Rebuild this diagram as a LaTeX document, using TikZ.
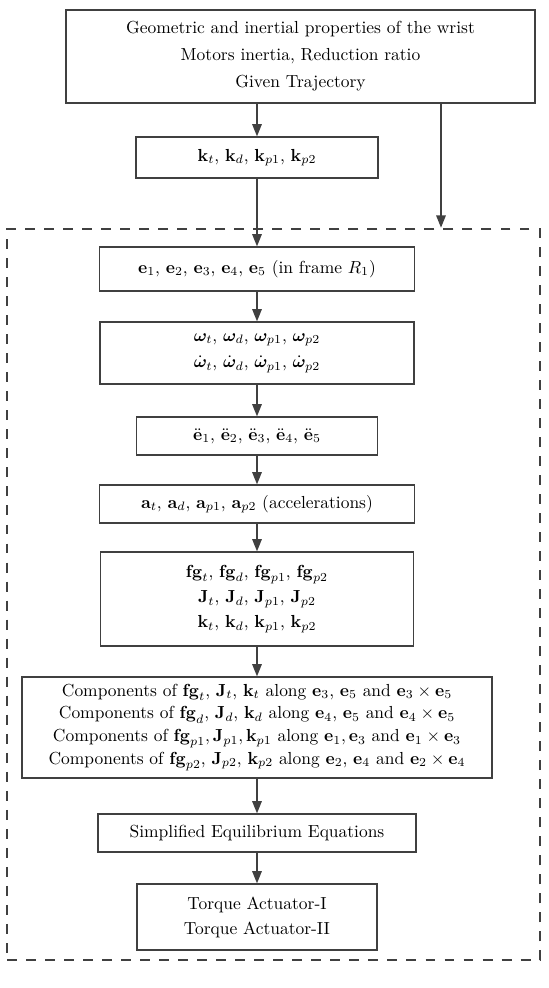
\documentclass[tikz,border=0pt]{standalone}
\usepackage{amsmath, amssymb}
\usepackage{bm}
\usepackage{tikz}
\usetikzlibrary{arrows.meta}
\newlength{\pxl}
\setlength{\pxl}{0.573pt}
\definecolor{linegray}{gray}{0.25}
\tikzset{
    box/.style={draw=linegray,line width=0.7pt,align=center,inner sep=0pt},
    arr/.style={draw=linegray,line width=0.9pt,-{Triangle[length=7pt,width=5.4pt]}},
    dashbox/.style={draw=linegray,line width=1.5pt,dash pattern=on 5.7pt off 5.2pt,inner sep=0pt}
}

\begin{document}
\begin{tikzpicture}[x=\pxl,y=-\pxl]
                            \useasboundingbox (0,0) rectangle (549,988);
                            \node[dashbox,minimum width=533\pxl,minimum height=731\pxl] (calc) at (273.5,594.5) {};
                            \node[box,minimum width=469\pxl,minimum height=93\pxl] (given) at (300.5,56.5)
                                {Geometric and inertial properties of the wrist\\[3.5pt]
                                 Motors inertia, Reduction ratio\\[3.5pt]
                                 Given Trajectory};
                            \node[box,minimum width=242\pxl,minimum height=41\pxl] (kvec) at (257,157.5)
                                {$\mathbf{k}_t$, $\mathbf{k}_d$, $\mathbf{k}_{p1}$, $\mathbf{k}_{p2}$};
                            \node[box,minimum width=315\pxl,minimum height=44\pxl] (evec) at (257,269)
                                {$\mathbf{e}_1$, $\mathbf{e}_2$, $\mathbf{e}_3$, $\mathbf{e}_4$, $\mathbf{e}_5$ (in frame $R_1$)};
                            \node[box,minimum width=314\pxl,minimum height=62\pxl] (omega) at (257,353)
                                {$\bm{\omega}_t$, $\bm{\omega}_d$, $\bm{\omega}_{p1}$, $\bm{\omega}_{p2}$\\[3pt]
                                 $\dot{\bm{\omega}}_t$, $\dot{\bm{\omega}}_d$, $\dot{\bm{\omega}}_{p1}$, $\dot{\bm{\omega}}_{p2}$};
                            \node[box,minimum width=241\pxl,minimum height=38\pxl] (eddot) at (257,436)
                                {$\ddot{\mathbf{e}}_1$, $\ddot{\mathbf{e}}_2$, $\ddot{\mathbf{e}}_3$, $\ddot{\mathbf{e}}_4$, $\ddot{\mathbf{e}}_5$};
                            \node[box,minimum width=315\pxl,minimum height=38\pxl] (accel) at (257,504)
                                {$\mathbf{a}_t$, $\mathbf{a}_d$, $\mathbf{a}_{p1}$, $\mathbf{a}_{p2}$ (accelerations)};
                            \node[box,minimum width=313\pxl,minimum height=94\pxl] (loads) at (257,599)
                                {$\mathbf{fg}_t$, $\mathbf{fg}_d$, $\mathbf{fg}_{p1}$, $\mathbf{fg}_{p2}$\\[2.3pt]
                                 $\mathbf{J}_t$, $\mathbf{J}_d$, $\mathbf{J}_{p1}$, $\mathbf{J}_{p2}$\\[2.3pt]
                                 $\mathbf{k}_t$, $\mathbf{k}_d$, $\mathbf{k}_{p1}$, $\mathbf{k}_{p2}$};
                            \node[box,minimum width=470\pxl,minimum height=101\pxl] (comps) at (257,727.5)
                                {Components of $\mathbf{fg}_t$, $\mathbf{J}_t$, $\mathbf{k}_t$ along $\mathbf{e}_3$, $\mathbf{e}_5$ and $\mathbf{e}_3\times\mathbf{e}_5$\\[1pt]
                                 Components of $\mathbf{fg}_d$, $\mathbf{J}_d$, $\mathbf{k}_d$ along $\mathbf{e}_4$, $\mathbf{e}_5$ and $\mathbf{e}_4\times\mathbf{e}_5$\\[1pt]
                                 Components of $\mathbf{fg}_{p1}, \mathbf{J}_{p1}, \mathbf{k}_{p1}$ along $\mathbf{e}_1, \mathbf{e}_3$ and $\mathbf{e}_1\times\mathbf{e}_3$\\[1pt]
                                 Components of $\mathbf{fg}_{p2}$, $\mathbf{J}_{p2}$, $\mathbf{k}_{p2}$ along $\mathbf{e}_2$, $\mathbf{e}_4$ and $\mathbf{e}_2\times\mathbf{e}_4$};
                            \node[box,minimum width=318\pxl,minimum height=38\pxl] (equil) at (257,833)
                                {Simplified Equilibrium Equations};
                            \node[box,minimum width=240\pxl,minimum height=66\pxl] (torque) at (257,917)
                                {Torque Actuator-I\\[2.3pt]
                                 Torque Actuator-II};
                            \draw[arr] (given.south -| kvec) -- (kvec);
                            \draw[arr] ([xshift=140.5\pxl]given.south) coordinate (split) -- (split |- calc.north);
                            \draw[arr] (kvec) -- (evec);
                            \draw[arr] (evec) -- (omega);
                            \draw[arr] (omega) -- (eddot);
                            \draw[arr] (eddot) -- (accel);
                            \draw[arr] (accel) -- (loads);
                            \draw[arr] (loads) -- (comps);
                            \draw[arr] (comps) -- (equil);
                            \draw[arr] (equil) -- (torque);
                        \end{tikzpicture}
\end{document}
